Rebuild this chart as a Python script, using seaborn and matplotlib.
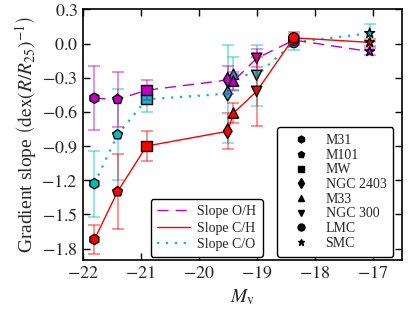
import numpy as np
import pandas as pd
import matplotlib
matplotlib.use('Agg')
import matplotlib.pyplot as plt
from matplotlib.lines import Line2D
from matplotlib.ticker import FixedLocator, FuncFormatter
import seaborn as sns

# galaxies ordered by absolute magnitude
galaxies = ['M31', 'M101', 'MW', 'NGC 2403', 'M33', 'NGC 300', 'LMC', 'SMC']
markers = ['h', 'p', 's', 'd', '^', 'v', 'o', '*']
mv = [-21.8, -21.4, -20.9, -19.5, -19.4, -19.0, -18.36, -17.05]

oh = [-0.48, -0.49, -0.41, -0.32, -0.33, -0.13, 0.03, -0.07]
oh_err = [0.28, 0.24, 0.09, 0.12, 0.08, 0.08, 0.04, 0.03]
ch = [-1.72, -1.30, -0.90, -0.77, -0.61, -0.42, 0.05, 0.01]
ch_err = [0.13, 0.33, 0.13, 0.16, 0.09, 0.30, 0.05, 0.03]
co = [-1.23, -0.80, -0.49, -0.44, -0.27, -0.28, 0.01, 0.09]
co_err = [0.29, 0.40, 0.11, 0.43, 0.15, 0.27, 0.07, 0.08]

sns.set_style('ticks')
plt.rcParams['font.family'] = ['Liberation Serif', 'DejaVu Serif']
plt.rcParams['mathtext.fontset'] = 'stix'
plt.rcParams['xtick.direction'] = 'in'
plt.rcParams['ytick.direction'] = 'in'
plt.rcParams['xtick.top'] = True
plt.rcParams['ytick.right'] = True

fig = plt.figure(figsize=(4.14, 3.11), dpi=100)
ax = fig.add_axes([0.2, 0.164, 0.77, 0.806])

# (values, errors, colour, dashes, label, linewidth) -- cyan drawn first, red on top
series = [
    (co, co_err, 'c', (1, 3), 'Slope C/O', 1.6),
    (oh, oh_err, 'm', (8, 5), 'Slope O/H', 1.0),
    (ch, ch_err, 'r', '', 'Slope C/H', 1.0),
]

for i, (vals, errs, col, dash, lab, lw) in enumerate(series):
    df = pd.DataFrame({'Mv': mv, 'slope': vals, 'galaxy': galaxies})
    ax.errorbar(mv, vals, yerr=errs, fmt='none', ecolor=col, alpha=0.5,
                capsize=4, elinewidth=1.2, capthick=1.2, zorder=2 + i * 3)
    sns.lineplot(data=df, x='Mv', y='slope', color=col, lw=lw,
                 sort=False, ax=ax, zorder=3 + i * 3)
    if dash:
        ax.lines[-1].set_dashes(dash)
    sns.scatterplot(data=df, x='Mv', y='slope', style='galaxy',
                    markers=dict(zip(galaxies, markers)), color=col,
                    edgecolor='black', linewidth=1, s=55, legend=False,
                    ax=ax, zorder=4 + i * 3)

ax.set_xlim(-22, -16.5)
ax.set_ylim(-1.9, 0.3)
ax.xaxis.set_major_locator(FixedLocator([-22, -21, -20, -19, -18, -17]))
ax.yaxis.set_major_locator(FixedLocator([-1.8, -1.5, -1.2, -0.9, -0.6, -0.3, 0.0, 0.3]))
ax.xaxis.set_major_formatter(FuncFormatter(lambda v, p: '$%d$' % round(v)))
ax.yaxis.set_major_formatter(FuncFormatter(lambda v, p: '$%.1f$' % (0.0 if abs(v) < 1e-9 else v)))
ax.tick_params(labelsize=13, length=5, width=1, color='black')
for sp in ax.spines.values():
    sp.set_linewidth(1.2)
    sp.set_color('black')

ax.set_xlabel(r'$M_{\rm v}$', fontsize=14)
ax.set_ylabel(r'Gradient slope $\left(\mathrm{dex}(R/R_{25})^{-1}\right)$', fontsize=14, labelpad=2)

line_handles = [
    Line2D([], [], color='m', lw=1.0, dashes=(8, 5)),
    Line2D([], [], color='r', lw=1.0),
    Line2D([], [], color='c', lw=1.6, dashes=(1, 3)),
]
leg1 = ax.legend(line_handles, ['Slope O/H', 'Slope C/H', 'Slope C/O'],
                 loc='lower left', bbox_to_anchor=(0.213, 0.011), borderaxespad=0,
                 fontsize=10, handlelength=2.4, handletextpad=0.5, labelspacing=0.25,
                 fancybox=True, framealpha=1, edgecolor='black', borderpad=0.45)
leg1.get_frame().set_linewidth(1.0)
ax.add_artist(leg1)

marker_handles = [Line2D([], [], ls='', marker=m, color='black', markersize=5) for m in markers]
leg2 = ax.legend(marker_handles, galaxies, loc='lower right', bbox_to_anchor=(0.974, 0.013),
                 borderaxespad=0, fontsize=10, labelspacing=0.12, fancybox=True,
                 framealpha=1, edgecolor='black', handlelength=2.4, handletextpad=0.6,
                 borderpad=0.5)
leg2.get_frame().set_linewidth(1.0)

fig.savefig('out.png', dpi=100)
